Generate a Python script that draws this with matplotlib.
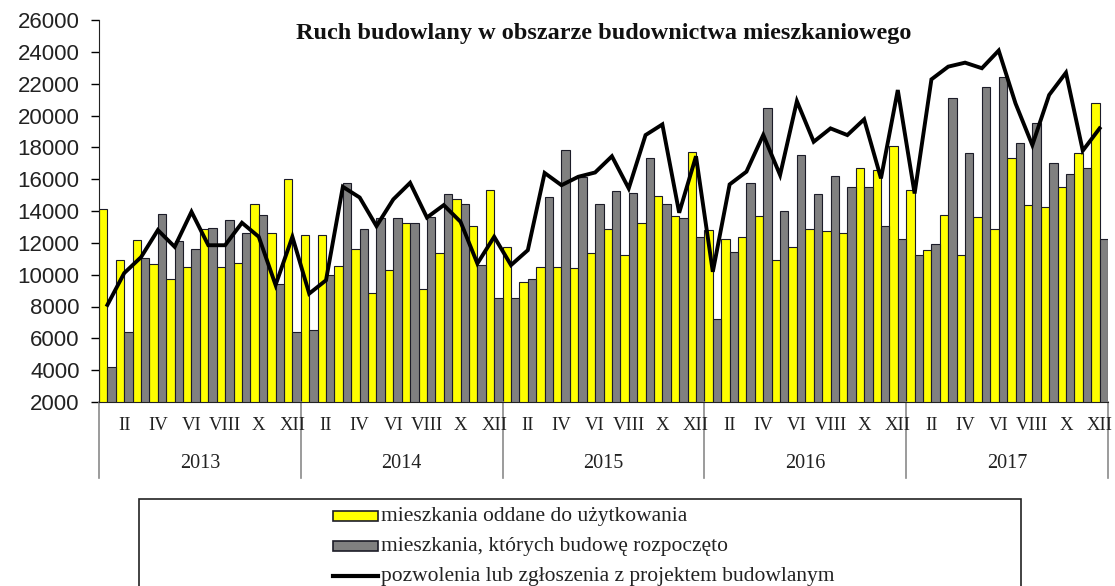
import numpy as np
import matplotlib
matplotlib.use("Agg")
import matplotlib.pyplot as plt
from matplotlib.transforms import blended_transform_factory
from matplotlib.patches import Rectangle
from matplotlib.lines import Line2D

years = ["2013", "2014", "2015", "2016", "2017"]
month_labels = ["", "II", "", "IV", "", "VI", "", "VIII", "", "X", "", "XII"]

# mieszkania oddane do użytkowania
completed = [
    14100, 10950, 12200, 10660, 9700, 10500, 12900, 10500, 10760, 14470, 12590, 16000,
    12480, 12480, 10550, 11640, 8850, 10280, 13220, 9130, 11330, 14750, 13050, 15310,
    11710, 9510, 10500, 10500, 10390, 11390, 12840, 11220, 13220, 14940, 13680, 17720,
    12800, 12270, 12380, 13700, 10950, 11710, 12840, 12750, 12630, 16680, 16570, 18100,
    15310, 11540, 13740, 11220, 13640, 12840, 17350, 14370, 14220, 15520, 17670, 20760,
]
# mieszkania, których budowę rozpoczęto
started = [
    4200, 6400, 11050, 13820, 12100, 11640, 12940, 13430, 12590, 13740, 9440, 6400,
    6500, 9970, 15730, 12840, 13590, 13530, 13220, 13640, 15060, 14470, 10600, 8560,
    8560, 9720, 14850, 17830, 16150, 14470, 15250, 15140, 17350, 14470, 13530, 12380,
    7240, 11430, 15730, 20490, 14010, 17510, 15060, 16190, 15520, 15520, 13050, 12210,
    11220, 11900, 21080, 17620, 21810, 22400, 18290, 19550, 16990, 16320, 16680, 12210,
]
# pozwolenia lub zgłoszenia z projektem budowlanym
permits = [
    8100, 10100, 11100, 12800, 11750, 13950, 11850, 11850, 13260, 12380, 9350, 12380,
    8810, 9650, 15520, 14850, 13050, 14730, 15770, 13590, 14370, 13320, 10700, 12380,
    10600, 11540, 16390, 15620, 16150, 16420, 17440, 15420, 18770, 19440, 13890, 17440,
    10180, 15670, 16470, 18780, 16260, 20900, 18350, 19190, 18770, 19760, 16050, 21600,
    15100, 22270, 23070, 23320, 22970, 24080, 20760, 18140, 21290, 22690, 17790, 19190,
]

W, H = 1115, 586
fig = plt.figure(figsize=(W / 100, H / 100), dpi=100)
ax = fig.add_axes([99 / W, 1 - 402 / H, (1108 - 99) / W, (402 - 20) / H])

n = len(completed)
x = np.arange(n)
edge = "#1c1c28"
ax.bar(x + 0.25, completed, width=0.5, color="#FFFF00", edgecolor=edge, linewidth=0.8, zorder=2)
ax.bar(x + 0.75, started, width=0.5, color="#808080", edgecolor=edge, linewidth=0.8, zorder=2)
ax.plot(x + 0.5, permits, color="black", linewidth=2.8, zorder=3, solid_joinstyle="miter")

ax.set_xlim(0, n)
ax.set_ylim(2000, 26000)
ax.set_yticks(np.arange(2000, 26001, 2000))
ax.tick_params(axis="y", direction="out", length=6, width=1, pad=8, labelsize=16)
for lab in ax.get_yticklabels():
    lab.set_fontfamily("Liberation Sans")
    lab.set_color("#222222")
ax.set_xticks([])
for s in ["top", "right"]:
    ax.spines[s].set_visible(False)
ax.spines["left"].set_color("#222222")
ax.spines["bottom"].set_color("#222222")
ax.spines["bottom"].set_linewidth(0.8)

tr = blended_transform_factory(ax.transData, fig.transFigure)
serif = "Liberation Serif"
for i in range(n):
    lab = month_labels[i % 12]
    if lab:
        ax.text(i + 0.5, 1 - 425 / H, lab, transform=tr, ha="center", va="center",
                fontsize=13.5, family=serif, color="#222222")
for k, yr in enumerate(years):
    ax.text(k * 12 + 6, 1 - 463 / H, yr, transform=tr, ha="center", va="center",
            fontsize=14.5, family=serif, color="#222222")
for k in range(len(years) + 1):
    ax.add_line(Line2D([k * 12, k * 12], [1 - 402 / H, 1 - 478 / H], transform=tr,
                       color="#8a8a8a", linewidth=1.2, clip_on=False))

fig.text(604 / W, 1 - 33 / H, "Ruch budowlany w obszarze budownictwa mieszkaniowego",
         ha="center", va="center", fontsize=17.5, fontweight="bold", family=serif, color="#111111")

# legend box
fig.patches.append(Rectangle((139 / W, 1 - 620 / H), (1021 - 139) / W, (620 - 499) / H,
                             transform=fig.transFigure, facecolor="white", edgecolor="#222222",
                             linewidth=1.2))
names = ["mieszkania oddane do użytkowania",
         "mieszkania, których budowę rozpoczęto",
         "pozwolenia lub zgłoszenia z projektem budowlanym"]
rows = [516, 546, 576]
fig.patches.append(Rectangle((333 / W, 1 - 521 / H), 45 / W, 10 / H, transform=fig.transFigure,
                             facecolor="#FFFF00", edgecolor=edge, linewidth=1.2))
fig.patches.append(Rectangle((333 / W, 1 - 551 / H), 45 / W, 10 / H, transform=fig.transFigure,
                             facecolor="#808080", edgecolor=edge, linewidth=1.2))
fig.lines.append(Line2D([333 / W, 378 / W], [1 - 576 / H, 1 - 576 / H], transform=fig.transFigure,
                        color="black", linewidth=3))
for name, r in zip(names, rows):
    fig.text(381 / W, 1 - r / H, name, ha="left", va="center", fontsize=15.5,
             family=serif, color="#222222")

fig.savefig("out.png", dpi=100, facecolor="white")
